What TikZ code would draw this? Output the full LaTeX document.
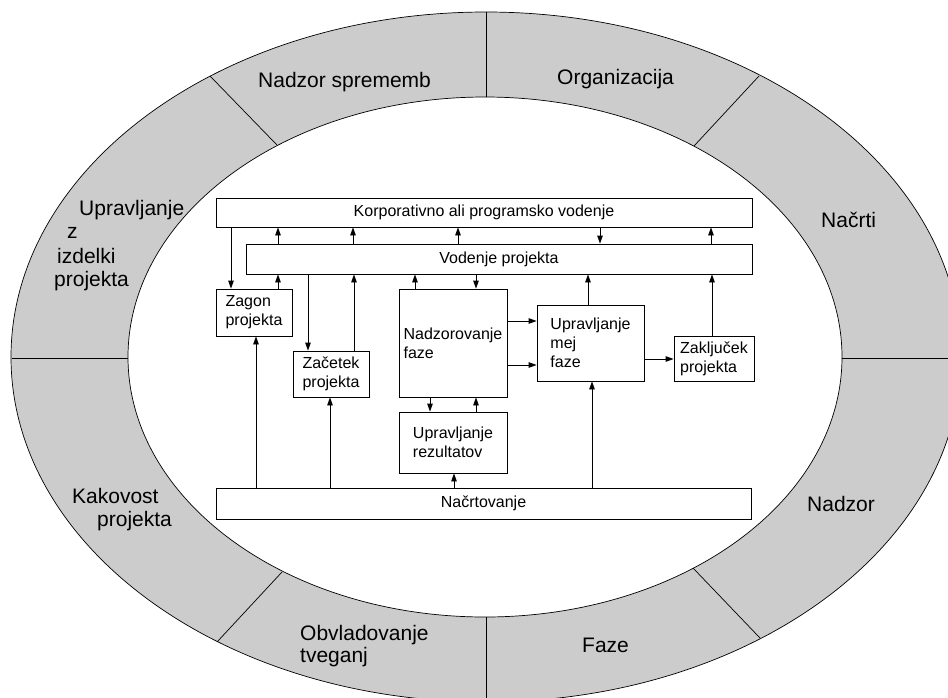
\documentclass[tikz,border=0pt]{standalone}
\usepackage{fontspec}
\setmainfont{Liberation Sans}
\usetikzlibrary{arrows.meta}
\definecolor{ringgray}{HTML}{CCCCCC}
\begin{document}
\begin{tikzpicture}[x=1pt,y=-1pt,
  outline/.style={draw=black, line width=0.7pt},
  ringlabel/.style={anchor=base west, inner sep=0pt, font=\fontsize{21}{24}\selectfont},
  box/.style={draw=black, fill=white, line width=0.8pt, inner sep=0pt, align=left,
              font=\fontsize{16}{19}\selectfont},
  flow/.style={line width=0.8pt, -{Triangle[length=8pt,width=5.5pt]}},
]
\useasboundingbox (0,0) rectangle (948,697);

% grey ring of the surrounding themes
\fill[ringgray, even odd rule]
  (486,357) ellipse [x radius=475pt, y radius=345pt]
  (485,357) ellipse [x radius=357pt, y radius=260pt];

% ring dividers
\draw[outline] (486,12) -- (486,97);
\draw[outline] (486,617) -- (486,702);
\draw[outline] (12,358) -- (128,358);
\draw[outline] (842,358) -- (961,358);
\draw[outline] (210,76) -- (277,145);
\draw[outline] (759,76) -- (694,146);
\draw[outline] (217,642) -- (282,572);
\draw[outline] (760,638) -- (693,568);

% ring outlines
\draw[outline] (486,357) ellipse [x radius=475pt, y radius=345pt];
\draw[outline] (485,357) ellipse [x radius=357pt, y radius=260pt];

% ring labels
\node[ringlabel] (tChange) at (258,87) {Nadzor sprememb};
\node[ringlabel] (tOrg) at (557,84) {Organizacija};
\node[ringlabel] (tPlans) at (821,227) {Načrti};
\node[ringlabel] (tProd1) at (79,215) {Upravljanje};
\node[ringlabel] (tProd2) at (67,238) {z};
\node[ringlabel] (tProd3) at (57,263) {izdelki};
\node[ringlabel] (tProd4) at (54,286) {projekta};
\node[ringlabel] (tQual1) at (72,503) {Kakovost};
\node[ringlabel] (tQual2) at (97,526) {projekta};
\node[ringlabel] (tRisk1) at (300,640) {Obvladovanje};
\node[ringlabel] (tRisk2) at (300,662) {tveganj};
\node[ringlabel] (tStages) at (582,652) {Faze};
\node[ringlabel] (tCtrl) at (807,511) {Nadzor};

% process boxes
\node[box, minimum width=536pt, minimum height=29pt] (korp) at (484,212.5) {Korporativno ali programsko vodenje};
\node[box, minimum width=506pt, minimum height=30pt] (vod) at (499,259) {Vodenje projekta};
\node[box, minimum width=76pt, minimum height=47pt] (zagon) at (254,312.5) {Zagon\\projekta};
\node[box, minimum width=76pt, minimum height=46pt] (zacetek) at (331,374) {Začetek\\projekta};
\node[box, minimum width=108pt, minimum height=108pt] (nadz) at (453,343) {Nadzorovanje\\faze};
\node[box, minimum width=107pt, minimum height=76pt] (uprmej) at (590.5,343) {Upravljanje\\mej\\faze};
\node[box, minimum width=80pt, minimum height=45pt] (zakl) at (714,358.5) {Zaključek\\projekta};
\node[box, minimum width=108pt, minimum height=61pt] (rez) at (453,442.5) {Upravljanje\\rezultatov};
\node[box, minimum width=535pt, minimum height=31pt] (nacrt) at (483.5,503.5) {Načrtovanje};

% flows between the boxes
\draw[flow] (korp.south -| 231,0) -- (zagon.north -| 231,0);
\foreach \x in {278,353,458,711}
  \draw[flow] (vod.north -| \x,0) -- (korp.south -| \x,0);
\draw[flow] (korp.south -| 600,0) -- (vod.north -| 600,0);
\draw[flow] (zagon.north -| 278,0) -- (vod.south -| 278,0);
\draw[flow] (vod.south -| 308,0) -- (zacetek.north -| 308,0);
\draw[flow] (zacetek.north -| 354,0) -- (vod.south -| 354,0);
\draw[flow] (nadz.north -| 415,0) -- (vod.south -| 415,0);
\draw[flow] (vod.south -| 476,0) -- (nadz.north -| 476,0);
\draw[flow] (uprmej.north -| 588,0) -- (vod.south -| 588,0);
\draw[flow] (zakl.north -| 712,0) -- (vod.south -| 712,0);
\draw[flow] (nadz.east |- 0,321) -- (uprmej.west |- 0,321);
\draw[flow] (nadz.east |- 0,365) -- (uprmej.west |- 0,365);
\draw[flow] (uprmej.east |- 0,359) -- (zakl.west |- 0,359);
\draw[flow] (nadz.south -| 430,0) -- (rez.north -| 430,0);
\draw[flow] (rez.north -| 476,0) -- (nadz.south -| 476,0);
\draw[flow] (nacrt.north -| 454,0) -- (rez.south -| 454,0);
\draw[flow] (nacrt.north -| 256,0) -- (zagon.south -| 256,0);
\draw[flow] (nacrt.north -| 330,0) -- (zacetek.south -| 330,0);
\draw[flow] (nacrt.north -| 592,0) -- (uprmej.south -| 592,0);
\end{tikzpicture}
\end{document}
